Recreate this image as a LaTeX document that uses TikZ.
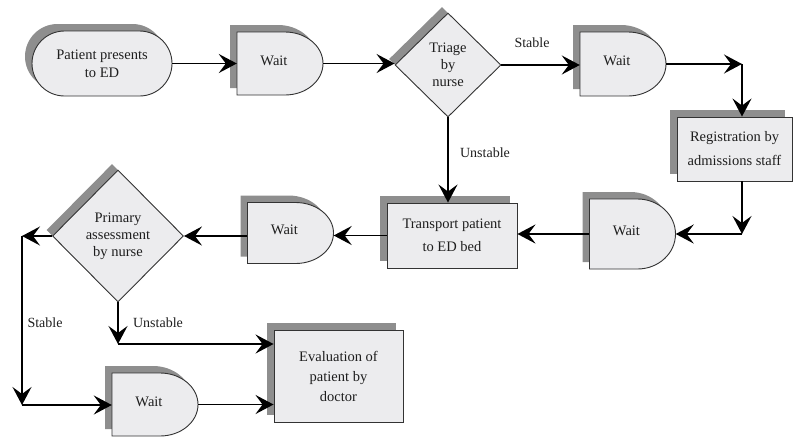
\documentclass[tikz,border=0pt]{standalone}
\usepackage{fontspec}
\setmainfont{Liberation Serif}
\newfontfamily\diagfont{Liberation Serif}
\usetikzlibrary{shapes.geometric,shapes.misc,arrows.meta,shadows,calc}
\definecolor{boxfill}{HTML}{ECECEE}
\definecolor{shadowc}{HTML}{8E8E8E}
\definecolor{linec}{HTML}{333333}
\definecolor{textc}{HTML}{1E1E1E}
% delay (D-shaped) box: name, cx, cy, height
\newcommand\delaynode[4]{%
  \fill[shadowc] ({#2-43-7},{#3-#4/2-7}) -- ({#2+5-7},{#3-#4/2-7})
     arc[start angle=90,end angle=-90,x radius=38pt,y radius=#4/2*1pt]
     -- ({#2-43-7},{#3+#4/2-7}) -- cycle;
  \draw[draw=linec,line width=0.9pt,fill=boxfill] ({#2-43},{#3-#4/2}) -- ({#2+5},{#3-#4/2})
     arc[start angle=90,end angle=-90,x radius=38pt,y radius=#4/2*1pt]
     -- ({#2-43},{#3+#4/2}) -- cycle;
  \node[inner sep=0pt,minimum width=86pt,minimum height=#4*1pt] (#1) at (#2,#3) {};
  \node[txt] (#1-t) at ({#2-6},{#3-3}) {Wait};
}
\begin{document}
\begin{tikzpicture}[x=1pt,y=-1pt,
  txt/.style={font=\diagfont\fontsize{14.5}{17}\selectfont, text=textc, inner sep=0pt},
  arr/.style={line width=1.8pt, draw=black, -{Stealth[length=18pt,width=19pt,inset=7pt]}},
  lbl/.style={font=\diagfont\fontsize{14}{16}\selectfont, text=textc, inner sep=0pt},
  shad/.style={drop shadow={shadow xshift=-7pt,shadow yshift=7pt,fill=shadowc,opacity=1}},
  dshad/.style={drop shadow={shadow xshift=-6pt,shadow yshift=6pt,fill=shadowc,opacity=1}},
  box/.style={draw=linec, line width=0.9pt, fill=boxfill, text=textc, inner sep=0pt, align=center},
]
\useasboundingbox (0,0) rectangle (793,437);

% nodes
\node[box, shad, rounded rectangle, minimum width=140pt, minimum height=65pt,
      font=\diagfont\fontsize{14.5}{18}\selectfont] (pat) at (102,63.5) {Patient presents\\to ED};
\delaynode{w1}{280}{63.5}{63}
\node[box, dshad, diamond, minimum width=106pt, minimum height=104pt,
      font=\diagfont\fontsize{14.5}{17}\selectfont] (tri) at (448,65) {Triage\\by\\nurse};
\delaynode{w2}{623}{64}{64}
\node[box, shad, rectangle, minimum width=115pt, minimum height=64pt,
      font=\diagfont\fontsize{14.5}{24}\selectfont] (reg) at (734.5,149) {Registration by\\admissions staff};
\delaynode{w3}{632.5}{234}{70}
\node[box, shad, rectangle, minimum width=130pt, minimum height=65pt,
      font=\diagfont\fontsize{14.5}{23}\selectfont] (trn) at (452,235.5) {Transport patient\\to ED bed};
\delaynode{w4}{290.5}{233}{61}
\node[box, dshad, diamond, minimum width=131pt, minimum height=132pt,
      font=\diagfont\fontsize{14.5}{17}\selectfont] (pri) at (118,236) {Primary\\assessment\\by nurse};
\delaynode{w5}{155}{404.5}{63}
\node[box, shad, rectangle, minimum width=129pt, minimum height=92pt,
      font=\diagfont\fontsize{14.5}{20}\selectfont] (ev) at (338.5,376) {Evaluation of\\patient by\\doctor};

% corner points
\coordinate (c1) at (742,64);
\coordinate (c2) at (742,234);
\coordinate (c3) at (22,236);
\coordinate (c4) at (22,405);
\coordinate (c5) at (118,344);

% connectors
\draw[arr] (pat.east) -- (pat.east -| w1.west);
\draw[arr] (w1.east) -- (w1.east -| tri.west);
\draw[arr] (tri.east) -- (tri.east -| w2.west);
\draw[arr] (w2.east) -- (c1);
\draw[arr] (c1) -- (c1 |- reg.north);
\draw[arr] (c1 |- reg.south) -- (c2);
\draw[arr] (c2) -- (c2 -| w3.east);
\draw[arr] (w3.west) -- (w3.west -| trn.east);
\draw[arr] (tri.south) -- (tri.south |- trn.north);
\draw[arr] (trn.west) -- (trn.west -| w4.east);
\draw[arr] (pri.east -| w4.west) -- (pri.east);
\draw[arr] (pri.west) -- (c3);
\draw[arr] (c3) -- (c4);
\draw[arr] (c4) -- (c4 -| w5.west);
\draw[arr] (pri.south) -- (c5);
\draw[arr] (c5) -- (c5 -| ev.west);
\draw[arr] (w5.east) -- (w5.east -| ev.west);

% labels
\node[lbl] (l1) at (532,43) {Stable};
\node[lbl] (l2) at (485,153) {Unstable};
\node[lbl] (l3) at (158,323) {Unstable};
\node[lbl] (l4) at (45,323) {Stable};
\end{tikzpicture}
\end{document}
